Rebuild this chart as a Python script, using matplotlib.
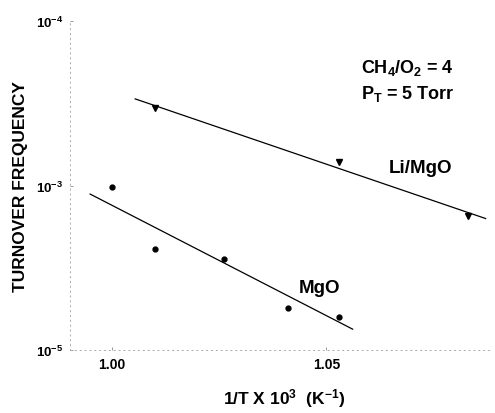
import matplotlib
matplotlib.use('Agg')
import matplotlib.pyplot as plt
import numpy as np

plt.rcParams['font.family'] = ['Liberation Sans', 'DejaVu Sans']
plt.rcParams['mathtext.fontset'] = 'custom'
plt.rcParams['mathtext.rm'] = 'Liberation Sans:bold'
plt.rcParams['mathtext.it'] = 'Liberation Sans:bold'
plt.rcParams['mathtext.bf'] = 'Liberation Sans:bold'

# data
li_x = [1.010, 1.053, 1.083]
li_y = [2.96e-4, 1.39e-4, 6.5e-5]
mgo_x = [1.000, 1.010, 1.026, 1.041, 1.053]
mgo_y = [9.8e-5, 4.1e-5, 3.57e-5, 1.8e-5, 1.59e-5]

# drawn fit lines (end points)
li_fit_x = [1.0054, 1.0871]
li_fit_y = [3.36e-4, 6.3e-5]
mgo_fit_x = [0.9949, 1.0561]
mgo_fit_y = [8.87e-5, 1.34e-5]

ytick_vals = [1e-5, 1e-4, 1e-3]
ytick_labels = ['$10^{-5}$', '$10^{-3}$', '$10^{-4}$']
xtick_vals = [1.00, 1.05]
xtick_labels = ['1.00', '1.05']

fig = plt.figure(figsize=(4.95, 4.14), dpi=100)
ax = fig.add_axes([0.1414, 0.152, 0.85, 0.795])

ax.plot(li_fit_x, li_fit_y, color='black', lw=0.9)
ax.plot(mgo_fit_x, mgo_fit_y, color='black', lw=0.9)
ax.plot(li_x, li_y, 'v', color='black', ms=4.5)
ax.plot(mgo_x, mgo_y, 'o', color='black', ms=3.5)

ax.set_yscale('log')
ax.set_ylim(1e-5, 1e-3)
ax.set_xlim(0.9902, 1.0883)
ax.set_yticks(ytick_vals)
ax.set_yticklabels(ytick_labels, fontsize=9.5)
ax.yaxis.set_minor_locator(matplotlib.ticker.NullLocator())
ax.set_xticks(xtick_vals)
ax.set_xticklabels(xtick_labels, fontsize=10, fontweight='bold')
ax.tick_params(axis='both', length=2, width=0.6, color='#888888', direction='in', pad=5)

for s in ['top', 'right']:
    ax.spines[s].set_visible(False)
for s in ['left', 'bottom']:
    ax.spines[s].set_linestyle((0, (1, 4)))
    ax.spines[s].set_color('#aaaaaa')
    ax.spines[s].set_linewidth(0.7)

ax.set_ylabel('TURNOVER FREQUENCY', fontsize=12.5, fontweight='bold')
ax.yaxis.set_label_coords(-0.1, 0.5)
ax.set_xlabel('1/T X 10$^3$  (K$^{-1}$)', fontsize=12.5, fontweight='bold')
ax.xaxis.set_label_coords(0.51, -0.11)

ax.text(1.058, 4.9e-4, 'CH$_4$/O$_2$ = 4', fontsize=13, fontweight='bold')
ax.text(1.058, 3.4e-4, 'P$_T$ = 5 Torr', fontsize=13, fontweight='bold')
ax.text(1.0645, 1.2e-4, 'Li/MgO', fontsize=13.5, fontweight='bold')
ax.text(1.0435, 2.25e-5, 'MgO', fontsize=13.5, fontweight='bold')

fig.savefig('out.png', dpi=100)
